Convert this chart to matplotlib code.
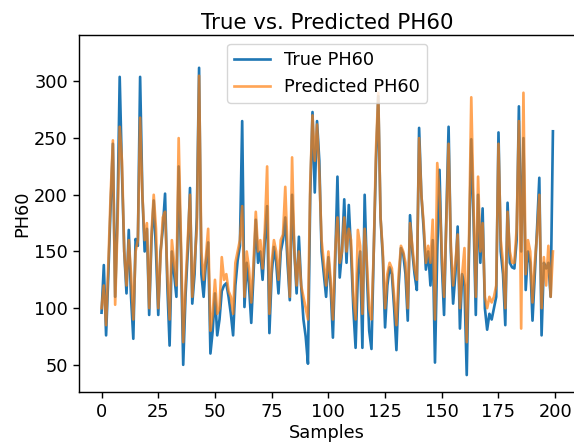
import matplotlib
matplotlib.use("Agg")
import matplotlib.pyplot as plt
import numpy as np

# values (200 samples)
true_ph60 = [
    96, 138, 76, 130, 190, 245, 110, 180, 304, 220,
    150, 113, 169, 110, 73, 161, 155, 304, 200, 150,
    170, 94, 160, 195, 150, 94, 150, 170, 201, 120,
    67, 150, 130, 110, 225, 150, 50, 110, 150, 206,
    104, 130, 180, 312, 130, 110, 140, 158, 60, 80,
    113, 76, 90, 115, 120, 122, 110, 95, 76, 120,
    142, 155, 265, 101, 140, 120, 87, 130, 178, 140,
    150, 125, 160, 190, 78, 130, 154, 140, 113, 150,
    160, 180, 140, 107, 200, 150, 113, 163, 120, 90,
    75, 51, 200, 273, 202, 265, 230, 150, 130, 110,
    145, 118, 74, 140, 216, 127, 150, 196, 140, 191,
    150, 100, 65, 130, 150, 65, 200, 130, 80, 64,
    150, 230, 287, 180, 145, 83, 120, 136, 130, 100,
    63, 120, 153, 148, 130, 89, 182, 150, 130, 116,
    259, 200, 170, 134, 150, 120, 160, 52, 150, 222,
    140, 94, 180, 260, 150, 104, 130, 172, 82, 130,
    120, 41, 150, 249, 180, 94, 200, 140, 188, 100,
    81, 95, 90, 100, 110, 255, 150, 130, 85, 193,
    140, 136, 135, 160, 278, 150, 250, 116, 150, 140,
    89, 130, 170, 215, 76, 140, 135, 140, 110, 256,
]

pred_ph60 = [
    100, 120, 85, 140, 200, 248, 103, 170, 260, 230,
    150, 120, 160, 130, 90, 150, 160, 268, 200, 160,
    175, 100, 165, 200, 170, 100, 145, 180, 185, 130,
    90, 160, 140, 120, 250, 160, 70, 120, 160, 200,
    110, 140, 170, 305, 150, 125, 145, 170, 80, 95,
    125, 95, 100, 145, 125, 130, 115, 110, 95, 140,
    150, 160, 190, 110, 150, 135, 105, 140, 185, 150,
    160, 135, 170, 225, 95, 140, 160, 150, 125, 160,
    165, 207, 150, 110, 233, 150, 120, 150, 120, 110,
    100, 90, 210, 270, 230, 262, 220, 160, 140, 120,
    150, 125, 90, 150, 180, 140, 150, 180, 150, 170,
    160, 110, 90, 169, 155, 95, 170, 140, 100, 90,
    150, 240, 290, 180, 150, 100, 130, 140, 135, 110,
    85, 130, 155, 150, 140, 100, 175, 155, 135, 125,
    250, 200, 175, 140, 155, 140, 178, 90, 228, 200,
    150, 110, 175, 245, 155, 120, 140, 165, 100, 130,
    153, 70, 160, 286, 190, 110, 216, 150, 175, 110,
    100, 110, 105, 110, 120, 245, 160, 140, 100, 185,
    150, 140, 140, 170, 265, 82, 290, 130, 160, 150,
    105, 140, 165, 200, 100, 145, 120, 155, 110, 150,
]

samples = np.arange(len(true_ph60))

# the reference looks like a scaled-up default figure
s = 1.28
plt.rcParams['font.size'] = 10 * s
plt.rcParams['lines.linewidth'] = 1.5 * s
plt.rcParams['axes.linewidth'] = 0.8 * s
plt.rcParams['xtick.major.width'] = 0.8 * s
plt.rcParams['ytick.major.width'] = 0.8 * s
plt.rcParams['xtick.major.size'] = 3.5 * s
plt.rcParams['ytick.major.size'] = 3.5 * s

fig = plt.figure(figsize=(5.74, 4.42), dpi=100)
ax = fig.add_axes([0.1376, 0.113, 0.865, 0.808])

ax.plot(samples, true_ph60, label='True PH60')
ax.plot(samples, pred_ph60, label='Predicted PH60', alpha=0.7)

ax.set_xlim(-9.95, 208.95)
ax.set_ylim(26, 341)
ax.set_xticks([0, 25, 50, 75, 100, 125, 150, 175, 200])
ax.set_yticks([50, 100, 150, 200, 250, 300])
ax.set_xlabel('Samples', labelpad=2)
ax.set_ylabel('PH60', labelpad=2)
ax.set_title('True vs. Predicted PH60', pad=4)
ax.legend(loc='upper center')

fig.savefig('out.png', dpi=100)
